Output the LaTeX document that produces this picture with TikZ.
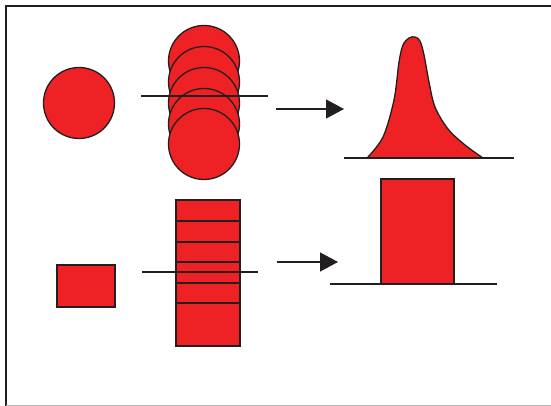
\documentclass[tikz,border=0pt]{standalone}
\usetikzlibrary{arrows.meta}
\definecolor{fillred}{HTML}{EE2124}
\definecolor{ink}{HTML}{231F20}
\begin{document}
\begin{tikzpicture}[x=1pt,y=-1pt,
  redpart/.style={draw=ink,fill=fillred,line width=1.3pt},
  disc/.style={redpart,circle,minimum size=71pt,inner sep=0pt},
  cutline/.style={draw=ink,line width=1.3pt},
  flow/.style={draw=ink,line width=1.3pt,-{Triangle[length=18pt,width=19pt]}}]
\useasboundingbox (0,0) rectangle (551,406);
\fill[white] (0,0) rectangle (551,406);
% frame
\draw[ink,line width=2pt] (6,406) -- (6,6) -- (551,6);
\draw[black!30,line width=1pt] (6,405) -- (551,405);

% upper row: a single disc and a stack of discs
\node[disc] (c0) at (79,103) {};
\foreach \i/\y in {1/61,2/82,3/103,4/124,5/144}
  \node[disc] (s\i) at (204,\y) {};
\draw[cutline] (141,96) -- (268,96);
\coordinate (a1s) at (276,109);
\coordinate (a1e) at (344,109);
\draw[flow] (a1s) -- (a1e);
% bell-shaped profile
\draw[redpart,line join=round] plot[smooth,tension=0.55] coordinates
  {(367,158) (383,137) (394,100) (399,62) (403,45) (409,38) (415,37) (420,41) (424,55)
   (429,82) (435,107) (448,129) (465,145) (483,158)} -- cycle;
\draw[cutline] (344,158) -- (514,158);

% lower row: a single block and a stack of slabs
\node[redpart,rectangle,minimum width=58pt,minimum height=42pt,inner sep=0pt] (b0) at (86,286) {};
\draw[redpart] (176,200) rectangle (240,346);
\foreach \y in {221,242,262,283,303}
  \draw[cutline] (176,\y) -- (240,\y);
\draw[cutline] (142,272) -- (258,272);
\coordinate (a2s) at (277,262);
\coordinate (a2e) at (338,262);
\draw[flow] (a2s) -- (a2e);
% rectangular profile
\node[redpart,rectangle,minimum width=73pt,minimum height=105pt,inner sep=0pt] (bar) at (417.5,231.5) {};
\draw[cutline] (330,284) -- (497,284);
\end{tikzpicture}
\end{document}
